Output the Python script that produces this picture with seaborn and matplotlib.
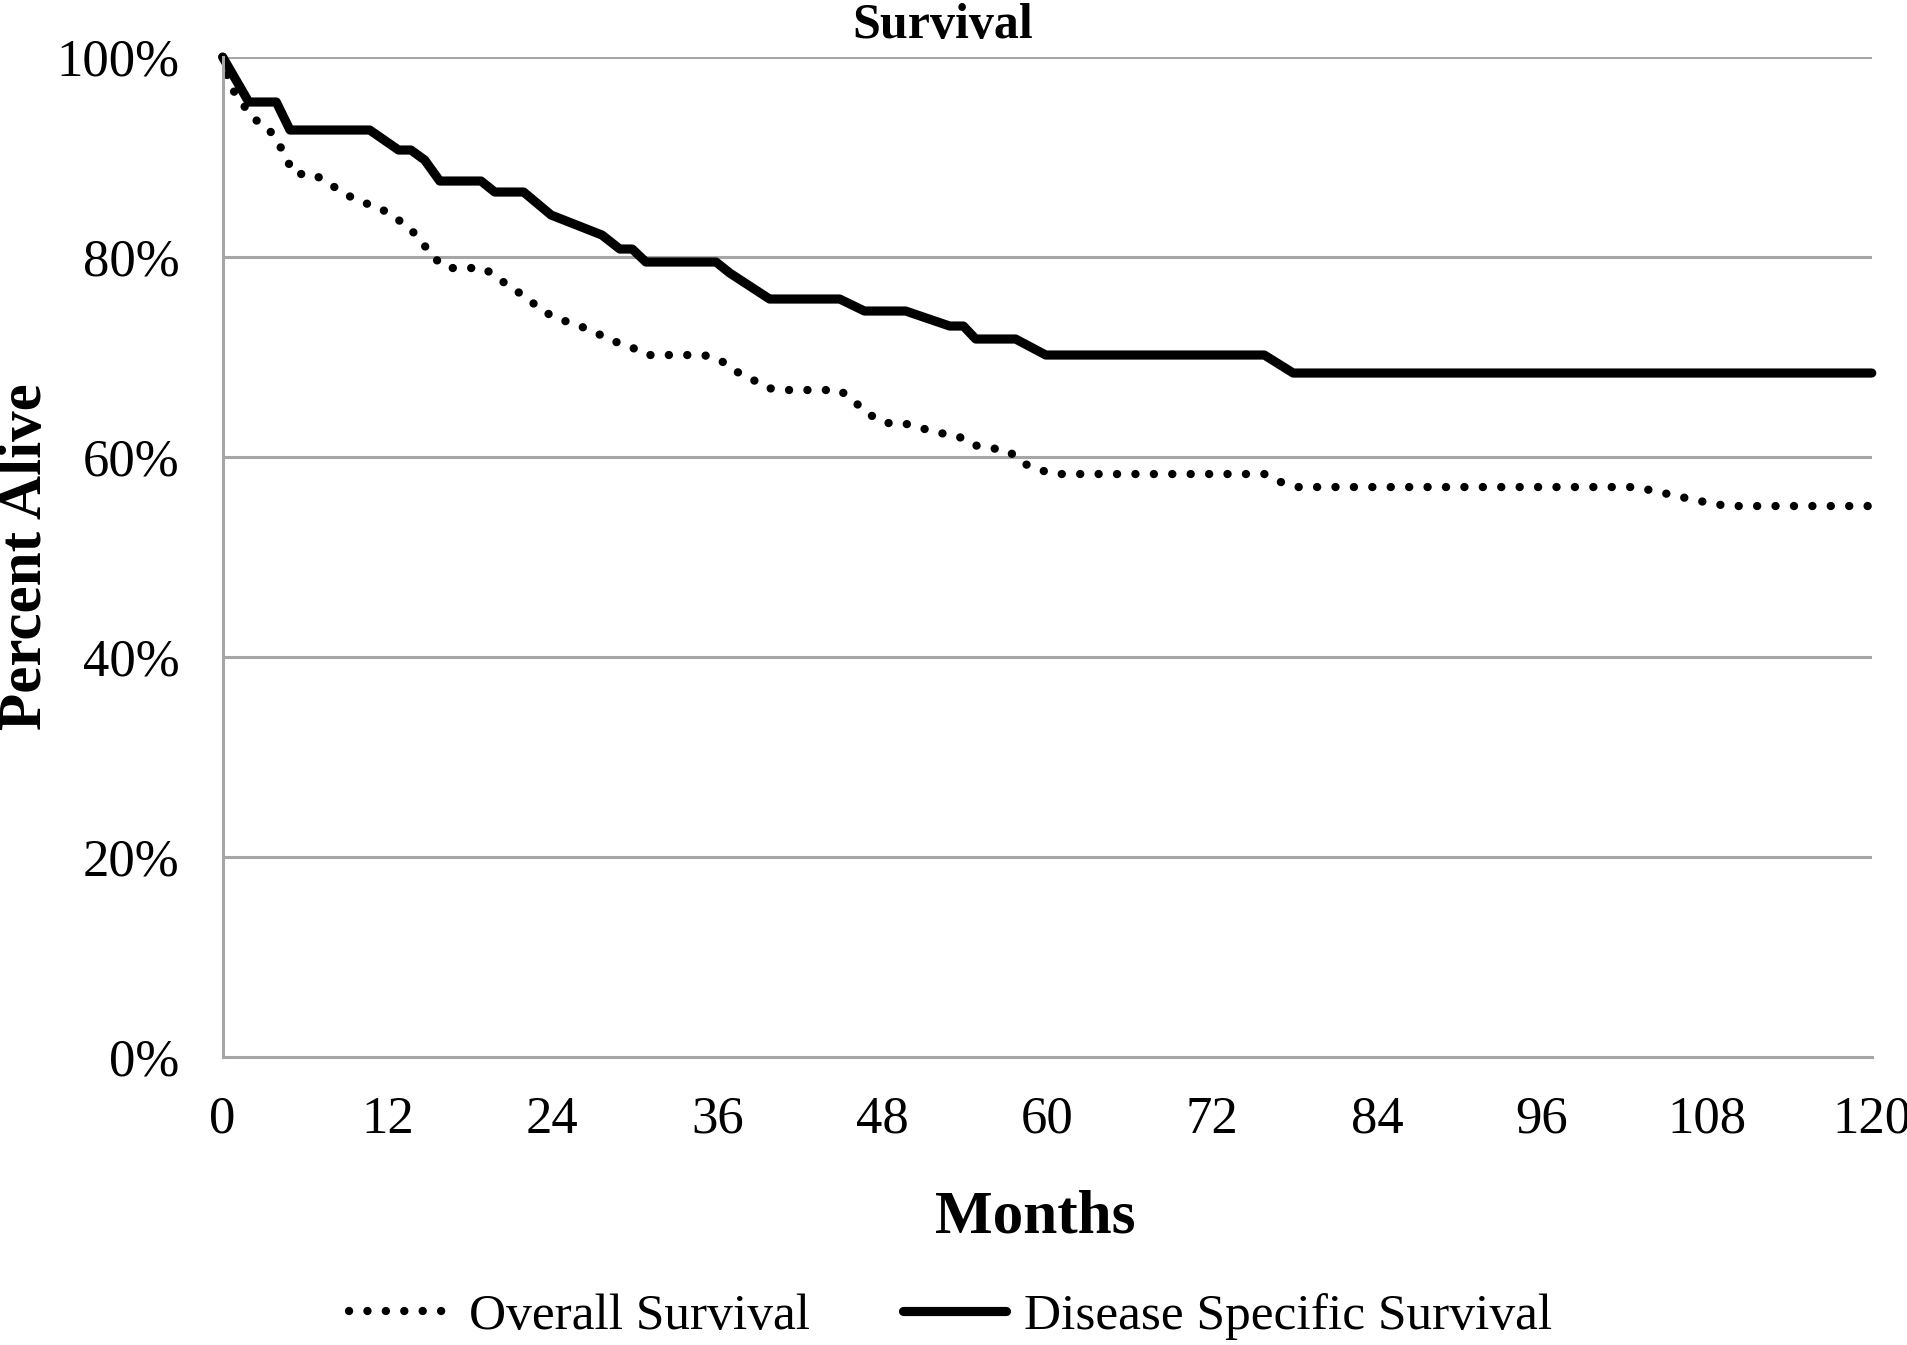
import pandas as pd
import seaborn as sns
import matplotlib.pyplot as plt

# Kaplan-Meier style curves (month, percent alive)
os_months = [0, 0.5, 1.5, 2.3, 3.3, 4.1, 5.2, 6.6, 7.8, 8.9, 10.1, 11.3, 12.5, 13.6,
             14.5, 15.3, 16.3, 19.0, 20.1, 21.3, 22.4, 23.4, 24.7, 26.0, 27.2, 28.4,
             29.6, 30.8, 35.0, 36.2, 37.3, 38.5, 39.6, 40.9, 44.9, 46.0, 47.0, 48.2,
             49.5, 50.8, 52.2, 53.5, 54.6, 55.9, 57.2, 58.2, 59.5, 60.5, 75.8, 77.0,
             78.3, 102.8, 104.2, 105.5, 106.8, 108.2, 109.5, 120]
os_pct = [100, 97.2, 95.2, 93.8, 92.9, 91.3, 88.3, 88.3, 87.3, 86.3, 85.5, 85.0, 84.0, 82.9,
          81.5, 80.0, 78.9, 78.9, 77.8, 76.7, 75.6, 74.5, 73.7, 73.1, 72.4, 71.6,
          71.1, 70.2, 70.2, 69.7, 68.6, 67.8, 66.9, 66.7, 66.7, 65.5, 64.3, 63.4,
          63.4, 62.9, 62.4, 62.1, 61.2, 60.9, 60.6, 59.4, 58.7, 58.3, 58.3, 57.5,
          57.0, 57.0, 56.6, 56.2, 55.8, 55.4, 55.1, 55.1]

dss_months = [0, 1.9, 3.9, 4.9, 10.7, 12.8, 13.7, 14.7, 15.8, 18.8, 19.8, 21.9, 23.9,
              27.6, 28.9, 29.8, 30.8, 35.9, 36.9, 39.8, 44.9, 46.7, 49.7, 52.9, 53.9,
              54.8, 57.7, 59.9, 75.8, 77.9, 120]
dss_pct = [100, 95.5, 95.5, 92.7, 92.7, 90.7, 90.7, 89.7, 87.6, 87.6, 86.5, 86.5, 84.2,
           82.2, 80.8, 80.8, 79.5, 79.5, 78.4, 75.8, 75.8, 74.6, 74.6, 73.1, 73.1,
           71.8, 71.8, 70.2, 70.2, 68.4, 68.4]

x_ticks = list(range(0, 121, 12))
y_ticks = [0, 20, 40, 60, 80, 100]

df_os = pd.DataFrame({"Months": os_months, "Percent": os_pct})
df_dss = pd.DataFrame({"Months": dss_months, "Percent": dss_pct})

sns.set_style("white")
plt.rcParams["font.family"] = ["Liberation Serif", "DejaVu Serif"]
plt.rcParams["text.color"] = "black"
plt.rcParams["axes.labelcolor"] = "black"

fig = plt.figure(figsize=(19.08, 13.45), dpi=100)
ax = fig.add_axes([0.1167, 0.2141, 0.8643, 0.7435])

grid_col = "#a6a6a6"
for yv in y_ticks[1:]:
    ax.axhline(yv, color=grid_col, linewidth=2.2, zorder=0)

sns.lineplot(data=df_os, x="Months", y="Percent", ax=ax, color="black",
             linewidth=6.0, linestyle=(0, (0.01, 2.2)), dash_capstyle="round",
             label="Overall Survival", clip_on=False)
sns.lineplot(data=df_dss, x="Months", y="Percent", ax=ax, color="black",
             linewidth=6.6, label="Disease Specific Survival", clip_on=False)

ax.set_xlim(0, 120)
ax.set_ylim(0, 100)
ax.set_xticks(x_ticks)
ax.set_yticks(y_ticks)
ax.set_yticklabels([f"{v}%" for v in y_ticks])
ax.tick_params(axis="both", length=0, labelsize=38, colors="black")
ax.tick_params(axis="y", pad=31)
ax.tick_params(axis="x", pad=28)

for side in ["top", "right"]:
    ax.spines[side].set_visible(False)
for side in ["left", "bottom"]:
    ax.spines[side].set_color(grid_col)
    ax.spines[side].set_linewidth(2.2)

ax.set_xlabel("Months", fontsize=44, fontweight="bold")
ax.xaxis.set_label_coords(0.493, -0.132)
ax.set_ylabel("Percent Alive", fontsize=44, fontweight="bold", labelpad=2)
fig.text(0.494, 0.981, "Survival", ha="center", va="center",
         fontsize=36, fontweight="bold")

ax.get_legend().remove()
fig.legend(loc="center", bbox_to_anchor=(0.498, 0.021), ncol=2, frameon=False,
           fontsize=37, handlelength=2.0, handletextpad=0.35, columnspacing=1.8)

fig.savefig("out.png", dpi=100)
